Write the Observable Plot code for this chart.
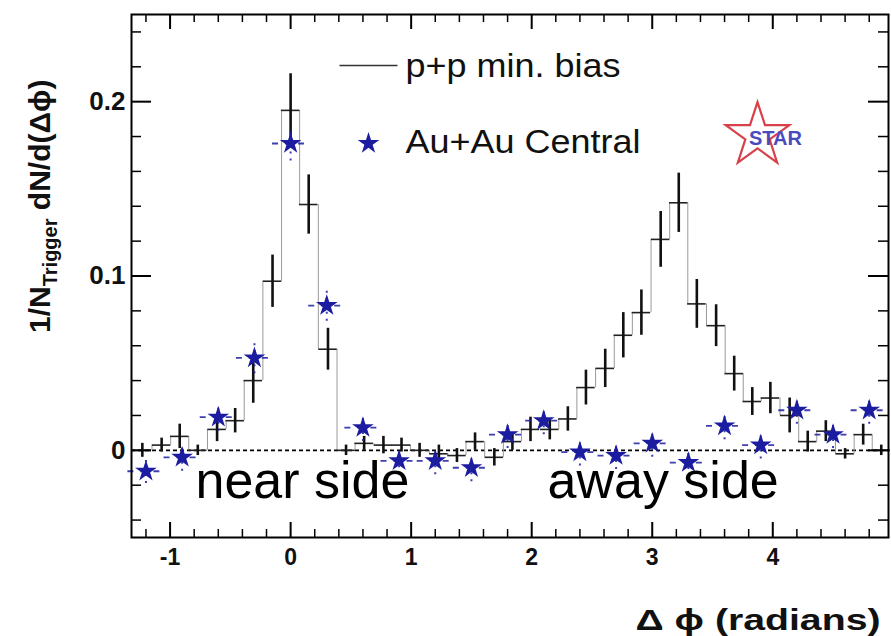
<!DOCTYPE html>
<html><head><meta charset="utf-8">
<script src="https://cdn.jsdelivr.net/npm/d3@7"></script>
<script src="https://cdn.jsdelivr.net/npm/@observablehq/plot@0.6"></script>
<style>body{margin:0;background:#fff} svg{display:block}</style>
</head><body><div id="chart"></div>
<script>
// p+p min. bias (histogram with error bars)
const ppX = [-1.23,-1.07,-0.92,-0.77,-0.61,-0.46,-0.31,-0.15,0,0.15,0.31,0.46,0.61,0.77,0.92,1.07,1.23,1.38,1.53,1.69,1.84,1.99,2.15,2.30,2.45,2.61,2.76,2.91,3.07,3.22,3.37,3.53,3.68,3.83,3.98,4.14,4.29,4.44,4.60,4.75,4.90];
const ppY = [0.000,0.003,0.008,0.000,0.012,0.017,0.040,0.097,0.195,0.141,0.058,0.000,0.004,0.003,0.003,0.000,-0.002,-0.003,0.005,-0.004,0.005,0.012,0.012,0.018,0.036,0.047,0.066,0.079,0.121,0.142,0.084,0.0715,0.044,0.028,0.030,0.020,0.005,0.011,-0.002,0.009,0.000];
const ppErr = [0.004,0.004,0.007,0.003,0.007,0.007,0.013,0.015,0.021,0.017,0.012,0.003,0.004,0.005,0.004,0.004,0.005,0.004,0.005,0.005,0.005,0.007,0.006,0.007,0.010,0.011,0.013,0.013,0.016,0.017,0.014,0.012,0.010,0.008,0.009,0.010,0.006,0.006,0.003,0.006,0.003];
const ppHalfBin = 0.0767;

// Au+Au Central (stars)
const auX = [-1.2,-0.9,-0.6,-0.3,0,0.3,0.6,0.9,1.2,1.5,1.8,2.1,2.4,2.7,3.0,3.3,3.6,3.9,4.2,4.5,4.8];
const auY = [-0.012,-0.004,0.019,0.053,0.176,0.083,0.013,-0.006,-0.006,-0.010,0.009,0.017,-0.001,-0.003,0.004,-0.007,0.014,0.003,0.023,0.009,0.023];
const auErr = [0.007,0.008,0.008,0.009,0.010,0.009,0.008,0.008,0.008,0.008,0.008,0.008,0.008,0.008,0.008,0.008,0.008,0.008,0.008,0.008,0.008];
const auHalfBin = 0.15;

// axes
const xDomain = [-1.32, 4.96];
const yDomain = [-0.05, 0.25];
const xMajor = [-1,0,1,2,3,4];
const xMinor = [-1.2,-0.8,-0.6,-0.4,-0.2,0.2,0.4,0.6,0.8,1.2,1.4,1.6,1.8,2.2,2.4,2.6,2.8,3.2,3.4,3.6,3.8,4.2,4.4,4.6,4.8];
const yMajor = [0,0.1,0.2];
const yMinor = [-0.04,-0.02,0.02,0.04,0.06,0.08,0.12,0.14,0.16,0.18,0.22,0.24];
const yMajorLabels = ["0","0.1","0.2"];
const xMajorLabels = ["-1","0","1","2","3","4"];
const zeroLine = [0];

const pp = ppX.map((x,i)=>({x, y: ppY[i], e: ppErr[i]}));
const au = auX.map((x,i)=>({x, y: auY[i], e: auErr[i]}));
const edges = pp.slice(1).map((d,i)=>({x:(pp[i].x+d.x)/2, y1: pp[i].y, y2: d.y}));

const W = 891, H = 636, mL = 131, mR = 3, mT = 14, mB = 99;
const innerW = W - mL - mR, innerH = H - mT - mB;
const yPx = (yDomain[1]-yDomain[0]) / innerH;   // data units per pixel
const xPx = (xDomain[1]-xDomain[0]) / innerW;
const FONT = "'Liberation Sans', Arial, Helvetica, sans-serif";
const blue = "#1c1ca0";

const lineSymbol = {draw(ctx){ ctx.moveTo(-29,0); ctx.lineTo(29,0); }};

function xTicks(vals, len, sw) {
  return [
    Plot.ruleX(vals, {x: d => d, y1: () => yDomain[0], y2: () => yDomain[0] + len*yPx, stroke: "#000", strokeWidth: sw}),
    Plot.ruleX(vals, {x: d => d, y1: () => yDomain[1] - len*yPx, y2: () => yDomain[1], stroke: "#000", strokeWidth: sw})
  ];
}
function yTicks(vals, len, sw) {
  return [
    Plot.ruleY(vals, {y: d => d, x1: () => xDomain[0], x2: () => xDomain[0] + len*xPx, stroke: "#000", strokeWidth: sw}),
    Plot.ruleY(vals, {y: d => d, x1: () => xDomain[1] - len*xPx, x2: () => xDomain[1], stroke: "#000", strokeWidth: sw})
  ];
}

const chart = Plot.plot({
  width: W, height: H,
  marginLeft: mL, marginRight: mR, marginTop: mT, marginBottom: mB,
  style: {fontFamily: FONT, background: "#fff", color: "#000"},
  x: {domain: xDomain, axis: null},
  y: {domain: yDomain, axis: null},
  marks: [
    // dashed zero line
    Plot.ruleY(zeroLine, {stroke: "#000", strokeWidth: 1.6, strokeDasharray: "4,3"}),
    // p+p histogram
    Plot.ruleX(edges, {x: "x", y1: "y1", y2: "y2", stroke: "#9a9a9a", strokeWidth: 1}),
    Plot.ruleY(pp, {y: "y", x1: d => d.x - ppHalfBin, x2: d => d.x + ppHalfBin, stroke: "#222", strokeWidth: 1.6}),
    Plot.ruleX(pp, {x: "x", y1: d => d.y - d.e, y2: d => d.y + d.e, stroke: "#111", strokeWidth: 2.6}),
    // Au+Au error bars
    Plot.ruleY(au, {y: "y", x1: d => d.x - auHalfBin, x2: d => d.x + auHalfBin, stroke: blue, strokeWidth: 1.8, strokeDasharray: "6,7", strokeOpacity: 0.85}),
    Plot.ruleX(au, {x: "x", y1: d => d.y - d.e, y2: d => d.y + d.e, stroke: blue, strokeWidth: 2, strokeDasharray: "2,5", strokeOpacity: 0.85}),
    Plot.dot(au, {x: "x", y: "y", symbol: "star", fill: blue, r: 6.8}),
    // inward ticks on all four sides
    ...xTicks(xMajor, 15, 2),
    ...xTicks(xMinor, 8, 1.5),
    ...yTicks(yMajor, 20, 2),
    ...yTicks(yMinor, 10, 1.5),
    Plot.frame({stroke: "#000", strokeWidth: 2}),
    // tick labels
    Plot.text(xMajor, {x: d => d, text: (d,i) => xMajorLabels[i], frameAnchor: "bottom", lineAnchor: "middle", dy: 20, fontSize: 23, fontWeight: "bold", fill: "#111"}),
    Plot.text(yMajor, {y: d => d, text: (d,i) => yMajorLabels[i], frameAnchor: "left", lineAnchor: "middle", dx: -6, textAnchor: "end", fontSize: 26, fontWeight: "bold", fill: "#111"}),
    // legend
    Plot.dot(["p+p"], {frameAnchor: "top-left", dx: 237, dy: 51, symbol: lineSymbol, fill: "none", stroke: "#333", strokeWidth: 1.5}),
    Plot.text(["p+p min. bias"], {text: d => d, frameAnchor: "top-left", lineAnchor: "middle", dx: 274, dy: 52, textAnchor: "start", fontSize: 34, fill: "#111"}),
    Plot.dot(["Au+Au"], {frameAnchor: "top-left", dx: 237, dy: 129, symbol: "star", fill: blue, r: 6.8}),
    Plot.text(["Au+Au Central"], {text: d => d, frameAnchor: "top-left", lineAnchor: "middle", dx: 274, dy: 128, textAnchor: "start", fontSize: 34, fill: "#111"}),
    // STAR logo
    Plot.dot(["logo"], {frameAnchor: "top-left", dx: 626, dy: 121, symbol: "star", fill: "none", stroke: "#d8404a", strokeWidth: 2.2, r: 20}),
    Plot.text(["STAR"], {text: d => d, frameAnchor: "top-left", lineAnchor: "middle", textAnchor: "middle", dx: 644, dy: 124, fontSize: 20, fontWeight: "bold", fill: "#4a4ac0"}),
    // annotations
    Plot.text(["near side"], {text: d => d, frameAnchor: "bottom-left", lineAnchor: "middle", dx: 64, dy: -56, textAnchor: "start", fontSize: 52, fill: "#000"}),
    Plot.text(["away side"], {text: d => d, frameAnchor: "bottom-left", lineAnchor: "middle", dx: 416, dy: -56, textAnchor: "start", fontSize: 52, fill: "#000"}),
    // x axis label
    Plot.text(["Δ ϕ (radians)"], {text: d => d, frameAnchor: "bottom-right", lineAnchor: "middle", dx: -8, dy: 83, textAnchor: "end", fontSize: 30, fontWeight: "bold", fill: "#111"})
  ]
});

const svg = d3.select(chart);
// widen a few texts to the reference's (horizontally stretched) widths
const stretch = {"Δ ϕ (radians)": 245, "p+p min. bias": 215, "Au+Au Central": 235};
svg.selectAll("text").each(function() {
  const w = stretch[this.textContent];
  if (w) d3.select(this).attr("textLength", w).attr("lengthAdjust", "spacingAndGlyphs");
});

// y-axis label with subscript
const yl = svg.append("text")
  .attr("transform", "translate(50,333) rotate(-90)")
  .attr("text-anchor", "start")
  .attr("font-family", FONT).attr("font-weight", "bold").attr("font-size", 30).attr("fill", "#111");
yl.append("tspan").text("1/N");
yl.append("tspan").attr("font-size", 20).attr("dy", 7).text("Trigger");
yl.append("tspan").attr("dy", -7).text(" dN/d(Δϕ)");

document.getElementById("chart").appendChild(chart);
</script>
</body></html>
